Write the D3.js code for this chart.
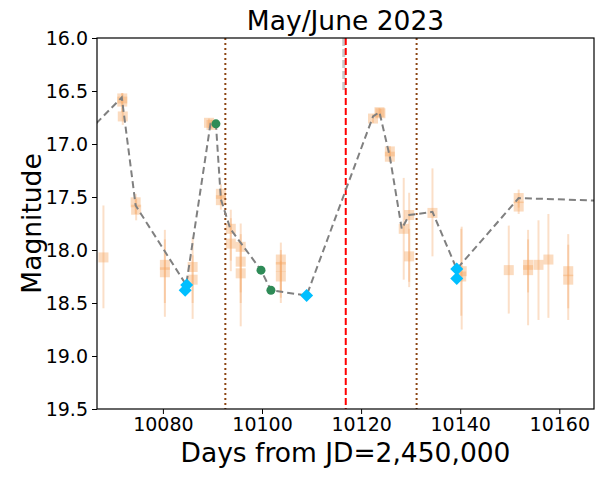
<!DOCTYPE html>
<html>
<head>
<meta charset="utf-8">
<script src="https://cdn.jsdelivr.net/npm/d3@7"></script>
<style>
  body { margin: 0; background: #fff; }
  text { font-family: "DejaVu Sans", sans-serif; }
</style>
</head>
<body>
<div id="chart"></div>
<script>
// Orange photometry points: [day, mag, errLow, errHigh]
const obs = [
    [10068.0, 18.07, 17.58, 18.55],
    [10071.8, 16.60, 16.52, 16.70],
    [10071.8, 16.57, 16.52, 16.70],
    [10071.9, 16.74, 16.66, 16.82],
    [10074.5, 17.55, 17.47, 17.66],
    [10074.6, 17.62, 17.52, 17.72],
    [10080.4, 18.14, 17.81, 18.63],
    [10080.4, 18.21, 17.90, 18.50],
    [10086.0, 18.16, 17.88, 18.65],
    [10086.0, 18.28, 18.05, 18.50],
    [10089.3, 16.80, 16.76, 16.85],
    [10089.8, 16.82, 16.77, 16.86],
    [10091.7, 17.47, 17.38, 17.56],
    [10091.7, 17.53, 17.45, 17.62],
    [10093.7, 17.80, 17.62, 18.20],
    [10093.7, 17.94, 17.70, 18.10],
    [10095.7, 17.97, 17.75, 18.72],
    [10095.7, 18.11, 17.85, 18.40],
    [10095.7, 18.22, 17.95, 18.50],
    [10103.8, 18.09, 17.93, 18.50],
    [10103.8, 18.16, 18.00, 18.40],
    [10103.8, 18.25, 18.10, 18.45],
    [10122.4, 16.76, 16.72, 16.80],
    [10123.7, 16.70, 16.66, 16.74],
    [10123.9, 16.71, 16.67, 16.76],
    [10125.8, 17.07, 17.02, 17.12],
    [10125.8, 17.12, 17.06, 17.17],
    [10128.6, 17.80, 17.32, 18.28],
    [10129.7, 17.67, 17.46, 18.35],
    [10129.7, 18.06, 17.80, 18.30],
    [10134.4, 17.65, 17.23, 18.06],
    [10140.3, 18.20, 17.78, 18.75],
    [10140.2, 18.25, 17.80, 18.62],
    [10149.8, 18.19, 17.77, 18.60],
    [10151.8, 17.51, 17.43, 17.60],
    [10151.8, 17.59, 17.50, 17.66],
    [10153.7, 18.14, 17.81, 18.71],
    [10153.7, 18.19, 17.90, 18.40],
    [10155.8, 18.14, 17.72, 18.66],
    [10157.8, 18.09, 17.66, 18.64],
    [10161.8, 18.20, 17.85, 18.66],
    [10161.8, 18.28, 17.95, 18.55]
];

// Blue diamonds and green dots: [day, mag]
const diamonds = [
    [10084.5, 18.38], [10084.8, 18.33], [10109.0, 18.43],
    [10139.3, 18.18], [10139.3, 18.27]
];
const greens = [[10090.7, 16.81], [10099.8, 18.19], [10101.8, 18.38]];

// Dashed gray connecting line: [day, mag]
const trend = [
    [10065.0, 16.88], [10071.7, 16.56], [10074.5, 17.58], [10084.7, 18.33],
    [10089.6, 16.81], [10090.7, 16.81], [10091.7, 17.52], [10093.6, 17.80],
    [10099.8, 18.19], [10101.8, 18.38], [10109.0, 18.43], [10122.4, 16.74],
    [10123.7, 16.70], [10125.8, 17.12], [10128.2, 17.80], [10129.7, 17.67],
    [10134.4, 17.64], [10139.3, 18.18], [10151.8, 17.51], [10168.0, 17.535]
];

// Reference lines
const dotted = [10092.6, 10131.2];
const redLine = 10116.9;
const grayStub = [10116.5, 16.0, 16.5];

const xTicks = [10080, 10100, 10120, 10140, 10160];
const yTicks = [16.0, 16.5, 17.0, 17.5, 18.0, 18.5, 19.0, 19.5];

const margin = { top: 38, right: 9, bottom: 70, left: 97 };
const width = 603 - margin.left - margin.right;
const height = 479 - margin.top - margin.bottom;

const root = d3.select("#chart").append("svg")
    .attr("width", 603)
    .attr("height", 479);

root.append("defs").append("clipPath").attr("id", "clip")
    .append("rect").attr("width", width).attr("height", height);

const svg = root.append("g")
    .attr("transform", `translate(${margin.left},${margin.top})`);

const x = d3.scaleLinear().domain([10066.7, 10167]).range([0, width]);
const y = d3.scaleLinear().domain([16.0, 19.5]).range([0, height]);

const plot = svg.append("g").attr("clip-path", "url(#clip)");

// Error bars
plot.selectAll(".err")
    .data(obs)
    .enter()
    .append("line")
    .attr("x1", d => x(d[0])).attr("x2", d => x(d[0]))
    .attr("y1", d => y(d[2])).attr("y2", d => y(d[3]))
    .attr("stroke", "#f4a460")
    .attr("stroke-opacity", 0.35)
    .attr("stroke-width", 2);

// Orange squares
plot.selectAll(".sq")
    .data(obs)
    .enter()
    .append("rect")
    .attr("x", d => x(d[0]) - 5)
    .attr("y", d => y(d[1]) - 5)
    .attr("width", 10)
    .attr("height", 10)
    .attr("fill", "#f4a460")
    .attr("fill-opacity", 0.4);

// Reference lines
plot.selectAll(".dot")
    .data(dotted)
    .enter()
    .append("line")
    .attr("x1", d => x(d)).attr("x2", d => x(d))
    .attr("y1", 0).attr("y2", height)
    .attr("stroke", "#8b4513").attr("stroke-width", 2)
    .attr("stroke-dasharray", "2,3");

plot.append("line")
    .attr("x1", x(grayStub[0])).attr("x2", x(grayStub[0]))
    .attr("y1", y(grayStub[1])).attr("y2", y(grayStub[2]))
    .attr("stroke", "#c8c8c8").attr("stroke-width", 3)
    .attr("stroke-dasharray", "8,3");

plot.append("line")
    .attr("x1", x(redLine)).attr("x2", x(redLine))
    .attr("y1", 0).attr("y2", height)
    .attr("stroke", "red").attr("stroke-width", 2)
    .attr("stroke-dasharray", "7,3");

// Trend line
plot.append("path")
    .datum(trend)
    .attr("fill", "none")
    .attr("stroke", "gray")
    .attr("stroke-width", 2)
    .attr("stroke-dasharray", "7,4")
    .attr("d", d3.line().x(d => x(d[0])).y(d => y(d[1])));

// Green dots
plot.selectAll(".g")
    .data(greens)
    .enter()
    .append("circle")
    .attr("cx", d => x(d[0]))
    .attr("cy", d => y(d[1]))
    .attr("r", 4.5)
    .attr("fill", "#2e8b57");

// Blue diamonds
plot.selectAll(".dm")
    .data(diamonds)
    .enter()
    .append("path")
    .attr("transform", d => `translate(${x(d[0])},${y(d[1])})`)
    .attr("d", "M0,-6.5L6.5,0L0,6.5L-6.5,0Z")
    .attr("fill", "#00bfff");

// Axes
const xAxis = svg.append("g")
    .attr("transform", `translate(0,${height})`)
    .call(d3.axisBottom(x).tickValues(xTicks).tickFormat(d3.format("d")).tickSizeOuter(0).tickSize(5).tickPadding(4));

const yAxis = svg.append("g")
    .call(d3.axisLeft(y).tickValues(yTicks).tickFormat(d3.format(".1f")).tickSizeOuter(0).tickSize(5).tickPadding(4));

[xAxis, yAxis].forEach(a => {
    a.selectAll("text").attr("font-size", 19).attr("fill", "#000")
        .attr("font-family", "DejaVu Sans, sans-serif");
    a.selectAll("line").attr("stroke", "#000").attr("stroke-width", 1);
    a.select(".domain").remove();
});

// Frame
svg.append("rect")
    .attr("width", width).attr("height", height)
    .attr("fill", "none").attr("stroke", "#000").attr("stroke-width", 1.2);

// Labels
svg.append("text")
    .attr("x", width / 2).attr("y", -8)
    .attr("text-anchor", "middle")
    .attr("font-size", 26.5)
    .text("May/June 2023");

svg.append("text")
    .attr("x", width / 2).attr("y", height + 53)
    .attr("text-anchor", "middle")
    .attr("font-size", 26.5)
    .text("Days from JD=2,450,000");

svg.append("text")
    .attr("transform", `translate(-56,${height / 2}) rotate(-90)`)
    .attr("text-anchor", "middle")
    .attr("font-size", 26.5)
    .text("Magnitude");
</script>
</body>
</html>
